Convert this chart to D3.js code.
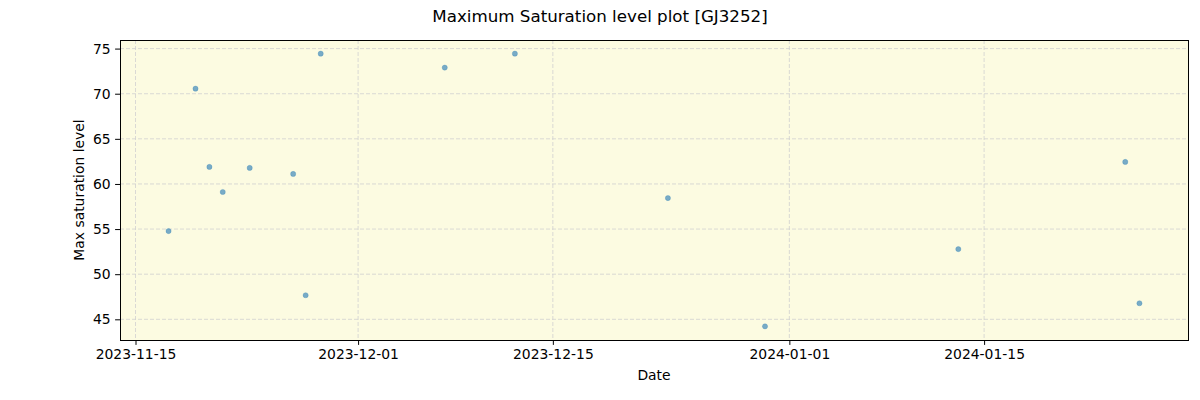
<!DOCTYPE html>
<html>
<head>
<meta charset="utf-8">
<script src="https://cdn.jsdelivr.net/npm/d3@7"></script>
<style>
  body { margin: 0; background: #fff; }
  svg { display: block; font-family: 'DejaVu Sans', sans-serif; }
</style>
</head>
<body>
<svg id="chart" width="1200" height="400"></svg>
<script>
// Max saturation level per observation (GJ3252)
const dates = [
  '2023-11-17T09:00', '2023-11-19T07:30', '2023-11-20T07:30', '2023-11-21T06:30',
  '2023-11-23T05:00', '2023-11-26T08:00', '2023-11-27T05:30', '2023-11-28T07:30',
  '2023-12-07T05:30', '2023-12-12T06:30', '2023-12-23T06:30', '2023-12-30T06:00',
  '2024-01-13T03:30', '2024-01-25T03:30', '2024-01-26T04:00'
];
const levels = [
  54.78, 70.56, 61.89, 59.11,
  61.78, 61.11, 47.67, 74.44,
  72.89, 74.44, 58.44, 44.22,
  52.78, 62.44, 46.78
];
const yTicks = [45, 50, 55, 60, 65, 70, 75];
const xTicks = ['2023-11-15', '2023-12-01', '2023-12-15', '2024-01-01', '2024-01-15'];

const W = 1200, H = 400;
const M = { top: 40, right: 12, bottom: 60, left: 120 };
const parse = d3.timeParse('%Y-%m-%dT%H:%M');
const parseDay = d3.timeParse('%Y-%m-%d');
const points = dates.map((d, i) => ({ t: parse(d), v: levels[i] }));

const svg = d3.select('#chart');

// padding de 5% como matplotlib
const tExt = d3.extent(points, p => +p.t);
const tPad = (tExt[1] - tExt[0]) * 0.05;
const vExt = d3.extent(levels);
const vPad = (vExt[1] - vExt[0]) * 0.05;

const x = d3.scaleTime()
  .domain([new Date(tExt[0] - tPad), new Date(tExt[1] + tPad)])
  .range([M.left, W - M.right]);
const y = d3.scaleLinear()
  .domain([vExt[0] - vPad, vExt[1] + vPad])
  .range([H - M.bottom, M.top]);

// fondo del área
svg.append('rect')
  .attr('x', M.left).attr('y', M.top)
  .attr('width', W - M.left - M.right).attr('height', H - M.top - M.bottom)
  .attr('fill', '#fcfbe1');

// grilla
const grid = svg.append('g').attr('stroke', '#d0d0d0').attr('stroke-width', 0.8)
  .attr('stroke-dasharray', '4,2');
grid.selectAll('line.gx').data(xTicks).join('line')
  .attr('x1', d => x(parseDay(d))).attr('x2', d => x(parseDay(d)))
  .attr('y1', M.top).attr('y2', H - M.bottom);
grid.selectAll('line.gy').data(yTicks).join('line')
  .attr('y1', d => y(d)).attr('y2', d => y(d))
  .attr('x1', M.left).attr('x2', W - M.right);

// puntos
svg.append('g').selectAll('circle').data(points).join('circle')
  .attr('cx', p => x(p.t)).attr('cy', p => y(p.v))
  .attr('r', 2.6)
  .attr('fill', '#1f77b4').attr('fill-opacity', 0.6)
  .attr('stroke', '#1f77b4').attr('stroke-opacity', 0.6).attr('stroke-width', 0.4);

// ejes
const xAxis = d3.axisBottom(x)
  .tickValues(xTicks.map(parseDay))
  .tickFormat(d3.timeFormat('%Y-%m-%d'))
  .tickSize(4.9).tickPadding(4.5);
const yAxis = d3.axisLeft(y)
  .tickValues(yTicks)
  .tickFormat(d3.format('d'))
  .tickSize(4.9).tickPadding(4.5);

const gx = svg.append('g').attr('transform', `translate(0,${H - M.bottom})`).call(xAxis);
const gy = svg.append('g').attr('transform', `translate(${M.left},0)`).call(yAxis);
[gx, gy].forEach(g => {
  g.select('.domain').remove();
  g.selectAll('.tick line').attr('stroke', '#000').attr('stroke-width', 1);
  g.selectAll('.tick text').attr('fill', '#000')
    .style('font-size', '13.9px').style('font-family', "'DejaVu Sans', sans-serif");
});

// marco
svg.append('rect')
  .attr('x', M.left).attr('y', M.top)
  .attr('width', W - M.left - M.right).attr('height', H - M.top - M.bottom)
  .attr('fill', 'none').attr('stroke', '#000').attr('stroke-width', 1)
  .attr('shape-rendering', 'crispEdges');

// textos
svg.append('text').text('Maximum Saturation level plot [GJ3252]')
  .attr('x', 600).attr('y', 22).attr('text-anchor', 'middle')
  .style('font-size', '16.7px').attr('fill', '#000');
svg.append('text').text('Date')
  .attr('x', (M.left + W - M.right) / 2).attr('y', 380).attr('text-anchor', 'middle')
  .style('font-size', '13.9px').attr('fill', '#000');
svg.append('text').text('Max saturation level')
  .attr('transform', `translate(84,${(M.top + H - M.bottom) / 2}) rotate(-90)`)
  .attr('text-anchor', 'middle')
  .style('font-size', '13.9px').attr('fill', '#000');
</script>
</body>
</html>
